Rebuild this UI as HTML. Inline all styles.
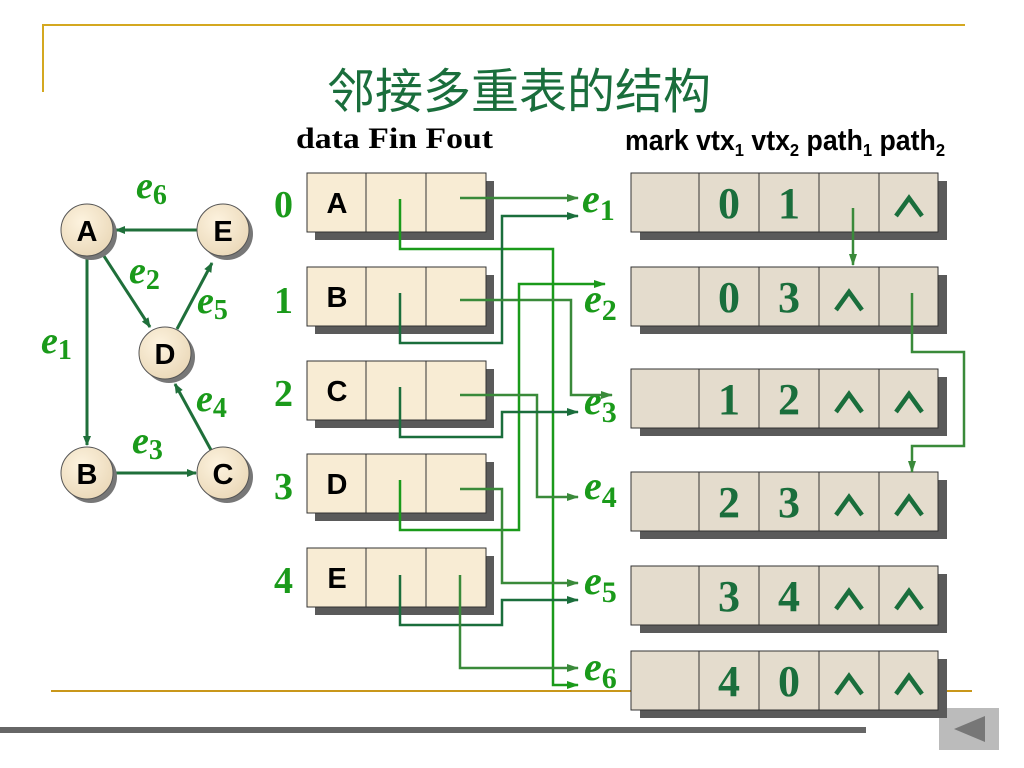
<!DOCTYPE html>
<html><head><meta charset="utf-8"><style>
html,body{margin:0;padding:0;background:#fff;}
svg{display:block;}
.lbl{font-family:"Liberation Serif",serif;font-style:italic;font-weight:bold;fill:#1a9a1a;}
.lbl tspan{font-style:normal;}
.num{font-family:"Liberation Serif",serif;font-weight:bold;fill:#1a9a1a;font-size:38px;}
.v{font-family:"Liberation Serif",serif;font-weight:bold;fill:#1a6e3c;font-size:44px;text-anchor:middle;}
.nd{font-family:"Liberation Sans",sans-serif;font-weight:bold;fill:#000;text-anchor:middle;}
</style></head><body>
<svg width="1024" height="768" viewBox="0 0 1024 768" xmlns="http://www.w3.org/2000/svg">
<defs>
<marker id="a1" markerWidth="12" markerHeight="8" refX="11" refY="4" orient="auto" markerUnits="userSpaceOnUse"><path d="M0,0 L12,4 L0,8 Z" fill="#3a8a3a"/></marker>
<marker id="a2" markerWidth="12" markerHeight="8" refX="11" refY="4" orient="auto" markerUnits="userSpaceOnUse"><path d="M0,0 L12,4 L0,8 Z" fill="#1a9a1a"/></marker>
<marker id="a3" markerWidth="12" markerHeight="8" refX="11" refY="4" orient="auto" markerUnits="userSpaceOnUse"><path d="M0,0 L12,4 L0,8 Z" fill="#1a6e3c"/></marker>
<marker id="ag" markerWidth="10" markerHeight="8" refX="9" refY="4" orient="auto" markerUnits="userSpaceOnUse"><path d="M0,0 L10,4 L0,8 Z" fill="#1f6f3a"/></marker>
<radialGradient id="nf" cx="40%" cy="35%" r="70%"><stop offset="0" stop-color="#fdf3df"/><stop offset="1" stop-color="#ead8b8"/></radialGradient>
<polyline id="nil" points="-13,9 0,-9 13,9" fill="none" stroke="#1a6e3c" stroke-width="4.5"/>
</defs>
<!-- decor -->
<path d="M43,92 V25 H965" stroke="#d4a820" stroke-width="2" fill="none"/>
<line x1="51" y1="691" x2="972" y2="691" stroke="#c9971a" stroke-width="2"/>
<rect x="0" y="727" width="866" height="6" fill="#666"/>
<rect x="939" y="708" width="60" height="42" fill="#bbb"/>
<path d="M954,729 L985,716 L985,742 Z" fill="#777"/>
<!-- title -->
<text x="519" y="108" font-family="'Noto Sans CJK SC','WenQuanYi Zen Hei',sans-serif" font-size="48" fill="#1a6e3c" text-anchor="middle">邻接多重表的结构</text>
<text x="296" y="148" font-family="'Liberation Serif',serif" font-weight="bold" font-size="30" fill="#000" textLength="197" lengthAdjust="spacingAndGlyphs">data Fin Fout</text>
<g transform="translate(625,150) scale(0.92,1)">
<text x="0" y="0" font-family="'Liberation Sans',sans-serif" font-weight="bold" font-size="29" fill="#000">mark vtx<tspan font-size="18" dy="6">1</tspan><tspan dy="-6"> vtx</tspan><tspan font-size="18" dy="6">2</tspan><tspan dy="-6"> path</tspan><tspan font-size="18" dy="6">1</tspan><tspan dy="-6"> path</tspan><tspan font-size="18" dy="6">2</tspan></text>
</g>
<!-- graph -->
<g stroke="#1f6f3a" stroke-width="3" fill="none">
<line x1="197" y1="230" x2="116" y2="230" marker-end="url(#ag)"/>
<line x1="87" y1="256" x2="87" y2="445" marker-end="url(#ag)"/>
<line x1="102" y1="253" x2="150" y2="327" marker-end="url(#ag)"/>
<line x1="177" y1="329" x2="212" y2="263" marker-end="url(#ag)"/>
<line x1="113" y1="473" x2="196" y2="473" marker-end="url(#ag)"/>
<line x1="211" y1="450" x2="175" y2="384" marker-end="url(#ag)"/>
</g>
<g>
<circle cx="91" cy="234" r="26" fill="#777"/><circle cx="87" cy="230" r="26" fill="url(#nf)" stroke="#555"/>
<circle cx="227" cy="234" r="26" fill="#777"/><circle cx="223" cy="230" r="26" fill="url(#nf)" stroke="#555"/>
<circle cx="169" cy="357" r="26" fill="#777"/><circle cx="165" cy="353" r="26" fill="url(#nf)" stroke="#555"/>
<circle cx="91" cy="477" r="26" fill="#777"/><circle cx="87" cy="473" r="26" fill="url(#nf)" stroke="#555"/>
<circle cx="227" cy="477" r="26" fill="#777"/><circle cx="223" cy="473" r="26" fill="url(#nf)" stroke="#555"/>
</g>
<g class="nd" font-size="29">
<text x="87" y="241">A</text><text x="223" y="241">E</text><text x="165" y="364">D</text><text x="87" y="484">B</text><text x="223" y="484">C</text>
</g>
<g class="lbl" font-size="38">
<text x="136" y="198">e<tspan font-size="28" dy="6">6</tspan></text>
<text x="129" y="283">e<tspan font-size="28" dy="6">2</tspan></text>
<text x="197" y="313">e<tspan font-size="28" dy="6">5</tspan></text>
<text x="41" y="353">e<tspan font-size="28" dy="6">1</tspan></text>
<text x="196" y="411">e<tspan font-size="28" dy="6">4</tspan></text>
<text x="132" y="453">e<tspan font-size="28" dy="6">3</tspan></text>
</g>
<!-- vertex boxes -->
<g id="vb">
<rect x="315" y="181" width="179" height="59" fill="#5a5a5a"/>
<rect x="307" y="173" width="179" height="59" fill="#f8ecd4" stroke="#333"/>
<line x1="366" y1="173" x2="366" y2="232" stroke="#333"/><line x1="426" y1="173" x2="426" y2="232" stroke="#333"/>
</g>
<use href="#vb" y="94"/><use href="#vb" y="188"/><use href="#vb" y="281"/><use href="#vb" y="375"/>
<g class="nd" font-size="29">
<text x="337" y="213">A</text><text x="337" y="307">B</text><text x="337" y="401">C</text><text x="337" y="494">D</text><text x="337" y="588">E</text>
</g>
<g class="num"><text x="274" y="217">0</text><text x="274" y="313">1</text><text x="274" y="406">2</text><text x="274" y="499">3</text><text x="274" y="593">4</text></g>
<!-- edge boxes -->
<g id="eb">
<rect x="640" y="181" width="307" height="59" fill="#5a5a5a"/>
<rect x="631" y="173" width="307" height="59" fill="#e4dccd" stroke="#333"/>
<g stroke="#333"><line x1="699" y1="173" x2="699" y2="232"/><line x1="759" y1="173" x2="759" y2="232"/><line x1="819" y1="173" x2="819" y2="232"/><line x1="879" y1="173" x2="879" y2="232"/></g>
</g>
<use href="#eb" y="94"/><use href="#eb" y="196"/><use href="#eb" y="299"/><use href="#eb" y="393"/><use href="#eb" y="478"/>
<g class="v">
<text x="729" y="218">0</text><text x="789" y="218">1</text>
<text x="729" y="312">0</text><text x="789" y="312">3</text>
<text x="729" y="414">1</text><text x="789" y="414">2</text>
<text x="729" y="517">2</text><text x="789" y="517">3</text>
<text x="729" y="611">3</text><text x="789" y="611">4</text>
<text x="729" y="696">4</text><text x="789" y="696">0</text>
</g>
<use href="#nil" x="909" y="207"/>
<use href="#nil" x="849" y="301"/>
<use href="#nil" x="849" y="403"/><use href="#nil" x="909" y="403"/>
<use href="#nil" x="849" y="506"/><use href="#nil" x="909" y="506"/>
<use href="#nil" x="849" y="600"/><use href="#nil" x="909" y="600"/>
<use href="#nil" x="849" y="685"/><use href="#nil" x="909" y="685"/>
<g class="lbl" font-size="40">
<text x="582" y="212">e<tspan font-size="30" dy="8">1</tspan></text>
<text x="584" y="312">e<tspan font-size="30" dy="8">2</tspan></text>
<text x="584" y="414">e<tspan font-size="30" dy="8">3</tspan></text>
<text x="584" y="499">e<tspan font-size="30" dy="8">4</tspan></text>
<text x="584" y="594">e<tspan font-size="30" dy="8">5</tspan></text>
<text x="584" y="680">e<tspan font-size="30" dy="8">6</tspan></text>
</g>
<!-- connectors -->
<g fill="none" stroke-width="2.5">
<path d="M460,198 H578" stroke="#3a8a3a" marker-end="url(#a1)"/>
<path d="M400,199 V249 H553 V685 H578" stroke="#1a9a1a" marker-end="url(#a2)"/>
<path d="M400,293 V343 H502 V216 H578" stroke="#1a6e3c" marker-end="url(#a3)"/>
<path d="M460,300 H571 V395 H612" stroke="#3a8a3a" marker-end="url(#a1)"/>
<path d="M400,480 V530 H519 V284 H605" stroke="#1a9a1a" marker-end="url(#a2)"/>
<path d="M460,395 H537 V497 H578" stroke="#3a8a3a" marker-end="url(#a1)"/>
<path d="M400,387 V437 H502 V412 H578" stroke="#1a6e3c" marker-end="url(#a3)"/>
<path d="M460,489 H502 V583 H578" stroke="#3a8a3a" marker-end="url(#a1)"/>
<path d="M400,575 V625 H502 V600 H578" stroke="#1a6e3c" marker-end="url(#a3)"/>
<path d="M460,575 V668 H578" stroke="#3a8a3a" marker-end="url(#a1)"/>
<path d="M853,208 V265" stroke="#3a8a3a" marker-end="url(#a1)"/>
<path d="M912,293 V352 H964 V446 H912 V472" stroke="#3a8a3a" marker-end="url(#a1)"/>
</g>
</svg>
</body></html>
